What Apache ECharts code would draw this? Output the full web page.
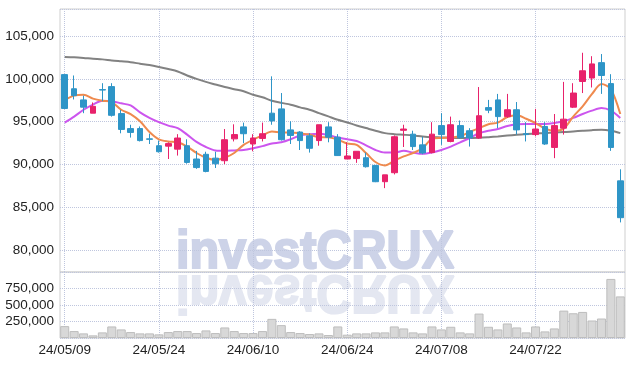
<!DOCTYPE html>
<html>
<head>
<meta charset="utf-8">
<script src="https://cdn.jsdelivr.net/npm/echarts@6/dist/echarts.min.js"></script>
<style>
html,body{margin:0;padding:0;background:#fff;}
#c{width:634px;height:366px;}
</style>
</head>
<body>
<div id="c"></div>
<script>
const dates = ['24/05/09','24/05/10','24/05/13','24/05/14','24/05/16','24/05/17','24/05/20','24/05/21','24/05/22','24/05/23',
'24/05/24','24/05/27','24/05/28','24/05/29','24/05/30','24/05/31','24/06/03','24/06/04','24/06/05','24/06/07',
'24/06/10','24/06/11','24/06/12','24/06/13','24/06/14','24/06/17','24/06/18','24/06/19','24/06/20','24/06/21',
'24/06/24','24/06/25','24/06/26','24/06/27','24/06/28','24/07/01','24/07/02','24/07/03','24/07/04','24/07/05',
'24/07/08','24/07/09','24/07/10','24/07/11','24/07/12','24/07/15','24/07/16','24/07/17','24/07/18','24/07/19',
'24/07/22','24/07/23','24/07/24','24/07/25','24/07/26','24/07/29','24/07/30','24/07/31','24/08/01','24/08/02'];

const opens  = [100500,98850,97550,96000,98750,99100,95950,94200,94200,93000,
92200,92150,91800,92200,90650,91200,90750,90450,93000,94400,
92400,93050,96000,96500,94050,93800,93350,92800,94400,93200,
90650,90700,90800,89900,88000,89050,94000,93550,92300,91400,
94550,92700,94550,93950,93100,96650,97550,95600,96400,93600,
93500,94450,92000,94250,96700,99700,100100,101900,99450,88100];
const closes = [96550,98050,96700,96800,98700,95750,94100,93750,92800,92950,
91500,92450,93100,90250,89650,89200,90100,92900,93500,93600,
93100,93600,95100,92900,93400,92800,91900,94650,93200,91050,
91000,91550,89750,88000,88800,93250,94150,92100,91350,93550,
93500,94650,93150,93100,95700,96350,95600,96400,94050,93500,
94150,92400,94550,95300,98350,100950,101750,100400,92000,83800];
const lows   = [96500,97600,96000,96000,97400,95600,93650,93150,92700,92400,
91400,90650,91050,90100,89500,89100,89600,90050,92700,92500,
91550,92700,94650,92800,92400,91700,91400,92200,92600,91000,
90650,90200,89650,87950,87250,88850,92050,91700,91200,91300,
92300,92600,93000,92100,93000,96000,94250,95450,93500,92700,
93300,92300,90750,93500,96600,98350,99000,98250,91600,83250];
const highs  = [100500,100400,98050,97250,99500,99500,96400,94650,94450,93600,
92800,92600,93550,92950,91600,91500,91500,94150,94700,94900,
93550,94900,100300,98350,95050,93900,93650,94650,94950,93550,
92600,91550,91400,89900,88800,93400,94650,93950,93250,94950,
96000,95600,95150,94250,99050,97550,98250,98250,97300,94950,
96500,94950,95900,99650,99500,103050,102650,102900,100550,89450];

const ma5  = [97550,98050,98150,97700,97450,97300,96400,95900,95050,93800,
92950,92700,92600,92100,91350,90800,90550,90800,91350,92300,
92900,93400,93850,93750,93750,93650,93500,93200,93200,92900,
92450,92300,91350,90300,89900,90450,90950,91350,91900,93000,
93100,93150,93300,93800,94250,94700,94900,95550,95750,95350,
94850,94200,93950,94200,95600,96800,98250,99400,98800,95900];
const ma20 = [94900,95600,96400,97000,97450,97400,97150,96900,96100,95450,
94950,94550,94250,93500,92650,92050,91650,91600,91650,91700,
91900,92150,92450,92600,92950,93400,93550,93600,93450,93150,
92950,92750,92250,91700,91400,91400,91600,91400,91250,91400,
91700,92100,92600,93100,93650,93950,94150,94500,94700,94750,
94750,94750,94850,95050,95450,95900,96300,96600,96300,95450];
const ma60 = [102570,102530,102450,102350,102280,102150,102050,101950,101780,101620,
101400,101150,100870,100400,100000,99650,99350,99050,98800,98550,
98150,97850,97450,97200,96990,96680,96400,96010,95620,95230,
94920,94570,94260,93950,93670,93550,93480,93400,93280,93200,
93170,93130,93090,93090,93130,93200,93280,93380,93480,93560,
93630,93670,93750,93790,93870,93950,94020,94060,93950,93670];

const volumes = [180000,105000,70000,40000,85000,175000,130000,90000,70000,70000,
55000,90000,105000,105000,75000,115000,75000,160000,105000,75000,
75000,105000,290000,195000,90000,75000,60000,70000,45000,175000,
50000,70000,70000,85000,85000,175000,145000,85000,70000,175000,
130000,170000,85000,70000,370000,170000,130000,220000,160000,85000,
175000,100000,145000,415000,375000,395000,265000,295000,895000,630000];

const candleData = opens.map((o, i) => [o, closes[i], lows[i], highs[i]]);

const FONT = '"Liberation Sans", Arial, sans-serif';
const gridLine = {type: 'dotted', color: '#bfc6de', width: 1};
const wmStyle = (fill) => ({text: 'investCRUX', fontFamily: '"Liberation Sans", Arial, sans-serif', fontWeight: 'bold',
  fontSize: 54, fill: fill, stroke: fill, lineWidth: 2.2, align: 'center', verticalAlign: 'top'});

const chart = echarts.init(document.getElementById('c'), null, {renderer: 'canvas'});
chart.setOption({
  animation: false,
  backgroundColor: '#ffffff',
  grid: [
    {left: 60, right: 9, top: 9, height: 263, show: true, borderColor: '#cfcfcf', borderWidth: 1},
    {left: 60, right: 9, top: 272, height: 66, show: true, borderColor: '#cfcfcf', borderWidth: 1}
  ],
  graphic: [
    {type: 'text', x: 315, y: 226, scaleX: 0.9, z: -10, silent: true, style: wmStyle('#cdd3e8')},
    {type: 'text', x: 315, y: 318, scaleX: 0.9, scaleY: -1, z: -10, silent: true, style: wmStyle('#e4e7f1')}
  ],
  xAxis: [
    {type: 'category', gridIndex: 0, data: dates, boundaryGap: true,
     axisLine: {show: false}, axisTick: {show: false}, axisLabel: {show: false},
     splitLine: {show: true, interval: 9, alignWithLabel: true, lineStyle: gridLine}},
    {type: 'category', gridIndex: 1, data: dates, boundaryGap: true,
     axisLine: {show: false}, axisTick: {show: false},
     axisLabel: {interval: 9, fontFamily: FONT, fontSize: 13.5, color: '#222', margin: 5},
     splitLine: {show: true, interval: 9, alignWithLabel: true, lineStyle: gridLine}}
  ],
  yAxis: [
    {type: 'value', gridIndex: 0, min: 77460, max: 108160, scale: true,
     axisLine: {show: false}, axisTick: {show: false},
     axisLabel: {showMinLabel: false, showMaxLabel: false, fontFamily: FONT, fontSize: 13.5, color: '#222', margin: 6,
                 formatter: v => v.toLocaleString('en-US')},
     splitLine: {show: true, lineStyle: gridLine}},
    {type: 'value', gridIndex: 1, min: 0, max: 1000000, interval: 250000,
     axisLine: {show: false}, axisTick: {show: false},
     axisLabel: {showMinLabel: false, showMaxLabel: false, fontFamily: FONT, fontSize: 13.5, color: '#222', margin: 6},
     splitLine: {show: true, lineStyle: gridLine}}
  ],
  series: [
    {type: 'candlestick', xAxisIndex: 0, yAxisIndex: 0, data: candleData, barWidth: '66%', z: 3,
     itemStyle: {color: '#e8226b', color0: '#2e95c7', borderColor: '#e8226b', borderColor0: '#2e95c7', borderWidth: 1}},
    {type: 'line', xAxisIndex: 0, yAxisIndex: 0, data: ma60, smooth: 0.3, symbol: 'none', z: 2,
     lineStyle: {color: '#828282', width: 2}},
    {type: 'line', xAxisIndex: 0, yAxisIndex: 0, data: ma20, smooth: 0.3, symbol: 'none', z: 2,
     lineStyle: {color: '#cc55ee', width: 2}},
    {type: 'line', xAxisIndex: 0, yAxisIndex: 0, data: ma5, smooth: 0.3, symbol: 'none', z: 2,
     lineStyle: {color: '#ef8a4e', width: 2}},
    {type: 'bar', xAxisIndex: 1, yAxisIndex: 1, data: volumes, barCategoryGap: '4%',
     itemStyle: {color: '#d8d8d8', borderColor: '#bdbdbd', borderWidth: 1}}
  ]
});
</script>
</body>
</html>
